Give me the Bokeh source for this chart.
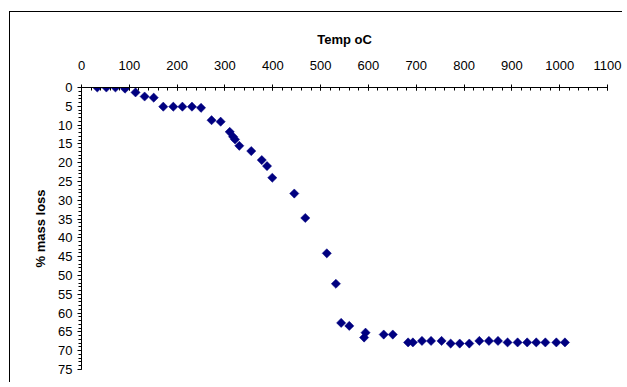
import numpy as np
from bokeh.plotting import figure
from bokeh.models import Range1d, SingleIntervalTicker, InlineStyleSheet
from bokeh.embed import file_html
from bokeh.resources import INLINE

# Temperature (oC) and % mass loss
temp_c = [33, 52, 71, 91, 113, 132, 151, 171, 192, 211, 231, 250, 272, 291,
          310, 317, 321, 330, 355, 377, 388, 399, 445, 468, 513, 532, 543, 560,
          591, 594, 632, 651, 683, 693, 712, 731, 753, 772, 791, 811,
          832, 852, 871, 891, 912, 932, 951, 970, 993, 1011]
mass_loss = [0.0, 0.0, 0.0, 0.3, 1.3, 2.4, 2.7, 5.1, 5.1, 5.1, 5.1, 5.4, 8.7, 9.1,
             11.8, 13.1, 13.8, 15.5, 16.9, 19.3, 20.9, 24.0, 28.2, 34.7, 44.1, 52.2, 62.6, 63.4,
             66.5, 65.2, 65.7, 65.7, 67.8, 67.8, 67.4, 67.4, 67.4, 68.1, 68.1, 68.1,
             67.4, 67.4, 67.4, 67.8, 67.8, 67.8, 67.8, 67.8, 67.8, 67.8]

x_title = "Temp oC"
y_title = "% mass loss"
FONT = "Liberation Sans"

p = figure(width=613, height=371, output_backend="svg", toolbar_location=None,
           x_range=Range1d(0, 1100), y_range=Range1d(75, 0),
           x_axis_location="above", frame_width=526, frame_height=282,
           min_border_left=71, min_border_top=75, min_border_right=16,
           min_border_bottom=14, margin=(12, 0, 0, 10))
# chart-area border: only its left/top edges are visible in the reference
p.stylesheets = [InlineStyleSheet(css=":host { box-shadow: -1px -1px 0 0 #000000; }")]

p.scatter(temp_c, mass_loss, marker="square", size=6.5, angle=np.pi / 4,
          fill_color="#000080", line_color="#000080", line_width=0.5)

p.grid.visible = False
p.outline_line_color = None
p.background_fill_color = "white"
p.border_fill_color = "white"

xa = p.xaxis[0]
xa.ticker = SingleIntervalTicker(interval=100, num_minor_ticks=5)
xa.axis_label = x_title
xa.axis_label_text_font = FONT
xa.axis_label_text_font_style = "bold"
xa.axis_label_text_font_size = "13px"
xa.axis_label_standoff = 11
xa.major_label_text_font = FONT
xa.major_label_text_font_size = "13px"
xa.major_label_standoff = 15
xa.major_tick_in = 3
xa.major_tick_out = 3
xa.minor_tick_in = 3
xa.minor_tick_out = 0
xa.axis_line_color = "black"
xa.major_tick_line_color = "black"
xa.minor_tick_line_color = "black"
xa.major_label_text_color = "black"
xa.axis_label_text_color = "black"

ya = p.yaxis[0]
ya.ticker = SingleIntervalTicker(interval=5, num_minor_ticks=5)
ya.axis_label = y_title
ya.axis_label_text_font = FONT
ya.axis_label_text_font_style = "bold"
ya.axis_label_text_font_size = "13px"
ya.axis_label_standoff = 7
ya.major_label_text_font = FONT
ya.major_label_text_font_size = "13px"
ya.major_label_standoff = 5
ya.major_tick_in = 0
ya.major_tick_out = 4
ya.minor_tick_in = 0
ya.minor_tick_out = 3
ya.axis_line_color = "black"
ya.major_tick_line_color = "black"
ya.minor_tick_line_color = "black"
ya.major_label_text_color = "black"
ya.axis_label_text_color = "black"

open("out.html", "w").write(file_html(p, INLINE))
